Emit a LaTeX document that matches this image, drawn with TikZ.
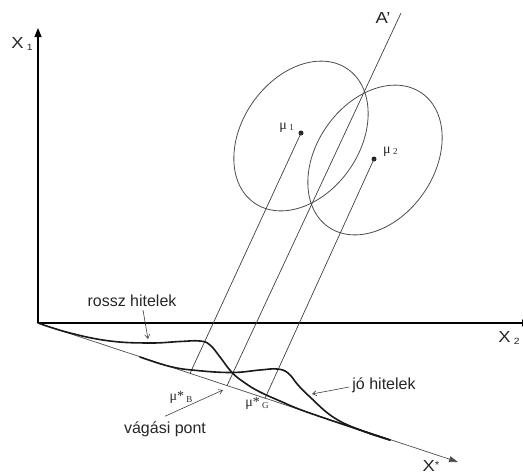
\documentclass[tikz,border=0pt]{standalone}
\usepackage{fontspec}
\setmainfont{Liberation Sans}
\newfontfamily\serifmu{Liberation Serif}
\usetikzlibrary{arrows.meta}
\begin{document}
\begin{tikzpicture}[x=1pt,y=1pt,
  axis/.style={line width=1.1pt, black},
  proj/.style={line width=0.7pt, black!75},
  ell/.style={line width=0.8pt, black!70},
  dens/.style={line width=1.6pt, black!90, line join=round, line cap=round},
  lbl/.style={font=\fontsize{16}{16}\selectfont, text=black!85, inner sep=0pt},
  axlbl/.style={font=\fontsize{16}{16}\selectfont, text=black!85, inner sep=0pt, xscale=1.15},
  mulbl/.style={font=\serifmu\fontsize{14}{14}\selectfont, text=black!85, inner sep=0pt},
  pointer/.style={line width=0.6pt, black!75, -{Straight Barb[length=4pt,width=5pt]}},
  dot/.style={circle, fill=black!85, inner sep=0pt, minimum size=5pt}
]
\useasboundingbox (0,0) rectangle (523,-475);
% axes
\coordinate (O) at (38,-323);
\coordinate (X1end) at (38,-28);
\coordinate (X2end) at (531,-323);
\coordinate (Xsend) at (458,-462);
\draw[axis,-{Triangle[length=9pt,width=7pt]}] (O) -- (X1end);
\draw[axis,-{Triangle[length=9pt,width=7pt]}] (O) -- (X2end);
\draw[line width=0.7pt, black!70, -{Triangle[length=9pt,width=6pt]}] (O) -- (Xsend);
\node[axlbl] (x1) at (22,-44) {X\,\raisebox{-2pt}{\fontsize{9}{9}\selectfont 1}};
\node[axlbl] (x2) at (509,-338) {X\,\raisebox{-2pt}{\fontsize{9}{9}\selectfont 2}};
\node[axlbl] (xs) at (431,-466) {X\raisebox{3pt}{\fontsize{10}{10}\selectfont *}};
% ellipses and means
\node[dot] (mu1) at (301,-133) {};
\node[dot] (mu2) at (374,-159) {};
\draw[ell, rotate around={55:(301,-136)}] (301,-136) ellipse [x radius=81.6pt, y radius=58.8pt];
\draw[ell, rotate around={55:(375,-160)}] (375,-160) ellipse [x radius=81.6pt, y radius=58.8pt];
\node[mulbl, anchor=east] (m1lab) at (294,-128) {μ\,\raisebox{-1pt}{\fontsize{9}{9}\selectfont 1}};
\node[mulbl, anchor=west] (m2lab) at (383,-152) {μ\,\raisebox{-1pt}{\fontsize{9}{9}\selectfont 2}};
% projection lines
\coordinate (pB) at (190,-373.4);
\coordinate (pC) at (227,-385.7);
\coordinate (pG) at (265,-398.3);
\coordinate (Atop) at (401,-13);
\draw[proj] (mu1.center) -- (pB);
\draw[proj] (mu2.center) -- (pG);
\draw[proj] (Atop) -- (pC);
\node[axlbl] (Alab) at (383,-18) {A'};
\node[mulbl] (muB) at (181,-397) {μ*\,\raisebox{-2pt}{\fontsize{9}{9}\selectfont B}};
\node[mulbl] (muG) at (257,-403) {μ*\,\raisebox{-2pt}{\fontsize{9}{9}\selectfont G}};
% density curves
\draw[dens] plot[smooth, tension=0.7] coordinates {(38,-323) (70,-333) (110,-341) (150,-343) (180,-341.5) (200,-341) (210,-345) (220,-357) (232,-372.5) (245,-383) (260,-392) (280,-401) (300,-409.5) (330,-420) (360,-430) (390,-440)};
\draw[dens] plot[smooth, tension=0.7] coordinates {(140,-357) (170,-366.5) (197,-370.5) (232,-372.5) (260,-370) (277,-369) (288,-373) (298,-385) (310,-397) (333,-417) (360,-430) (390,-440)};
% labels with pointers
\node[lbl] (rossz) at (132,-301) {rossz hitelek};
\node[lbl] (jo) at (384,-385) {jó hitelek};
\node[lbl] (vag) at (165,-429) {vágási pont};
\coordinate (tipR) at (148,-339);
\coordinate (tipJ) at (312,-394);
\coordinate (tipV) at (223,-390);
\draw[pointer] ([xshift=11pt,yshift=-3pt]rossz.south) -- (tipR);
\draw[pointer] ([xshift=-3pt,yshift=-2pt]jo.west) -- (tipJ);
\draw[pointer] ([yshift=5pt]vag.north) -- (tipV);
\end{tikzpicture}
\end{document}
